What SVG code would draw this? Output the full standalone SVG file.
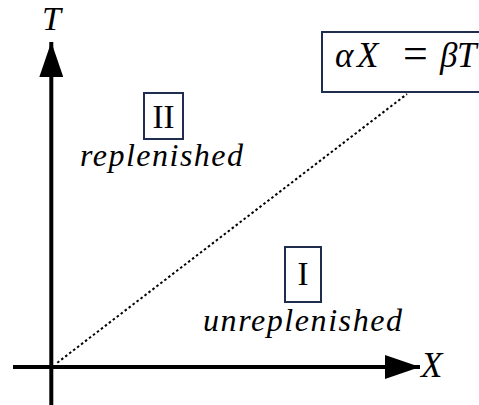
<svg xmlns="http://www.w3.org/2000/svg" width="479" height="405" viewBox="0 0 479 405">
<style>
.box{fill:#fff;stroke:#1f2d4f;stroke-width:2}
.axis{stroke:#000;stroke-width:4;fill:none}
</style>
<defs>
<marker id="ah" markerUnits="userSpaceOnUse" markerWidth="36" markerHeight="24" refX="35" refY="12" orient="auto" viewBox="0 0 36 24">
<path d="M0,0 L35,12 L0,24 Z" fill="#000"/>
</marker>
</defs>
<g id="connectors">
<line class="axis" x1="51.3" y1="405" x2="51.3" y2="42" marker-end="url(#ah)"/>
<line class="axis" x1="13" y1="367" x2="420" y2="367" marker-end="url(#ah)"/>
<line x1="57.3" y1="362.7" x2="407" y2="94" stroke="#000" stroke-width="2" stroke-dasharray="2.5,2.5"/>
</g>
<g font-family="Liberation Serif" fill="#000">
<g id="label-T"><text font-style="italic" x="42" y="30" font-size="34">T</text></g>
<g id="label-X"><text font-style="italic" x="421" y="377" font-size="35">X</text></g>
<g id="node-eq">
<rect class="box" x="322" y="32" width="160" height="60"/>
<text font-style="italic" x="335" y="67" font-size="35">α</text>
<text font-style="italic" x="357" y="67" font-size="35">X</text>
<text x="403" y="68" font-size="44">=</text>
<text font-style="italic" x="440" y="67" font-size="35">β</text>
<text font-style="italic" x="457" y="67" font-size="35">T</text>
</g>
<g id="node-II">
<rect class="box" x="144" y="93" width="39" height="46"/>
<text x="163.5" y="128" font-size="33" text-anchor="middle">II</text>
<text font-style="italic" x="80" y="166" font-size="32" textLength="163" lengthAdjust="spacing">replenished</text>
</g>
<g id="node-I">
<rect class="box" x="285" y="247" width="36" height="55"/>
<text x="303" y="285" font-size="33" text-anchor="middle">I</text>
<text font-style="italic" x="203" y="331" font-size="32" textLength="199" lengthAdjust="spacing">unreplenished</text>
</g>
</g>
</svg>
